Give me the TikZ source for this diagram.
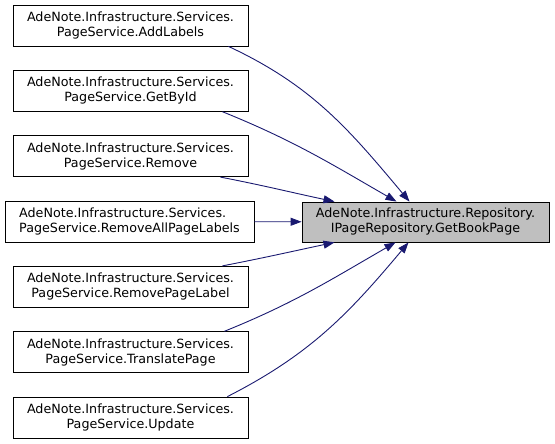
\documentclass[tikz,border=0pt]{standalone}
\usepackage{fontspec}
\setmainfont{DejaVu Sans}
\usetikzlibrary{arrows.meta}
\definecolor{edgeblue}{RGB}{25,25,112}
\definecolor{targetgray}{RGB}{191,191,191}

\begin{document}
\begin{tikzpicture}[x=1pt,y=1pt,
        box/.style={draw=black,line width=0.8pt,align=center,minimum width=235pt,minimum height=41pt,inner sep=2pt,font=\fontsize{12.7}{15}\selectfont},
        call/.style={draw=edgeblue,line width=0.9pt,-{Triangle[length=11pt,width=8pt,fill=edgeblue]}}]
        \useasboundingbox (0,0) rectangle (555,444);
        \node[box] (addlabels) at (130.5,418.5) {AdeNote.Infrastructure.Services.\\PageService.AddLabels};
        \node[box] (getbyid) at (130.5,353.2) {AdeNote.Infrastructure.Services.\\PageService.GetById};
        \node[box] (remove) at (130.5,287.8) {AdeNote.Infrastructure.Services.\\PageService.Remove};
        \node[box,align=left,minimum width=249pt] (removeall) at (129.5,222.5) {AdeNote.Infrastructure.Services.\\PageService.RemoveAllPageLabels};
        \node[box] (removelabel) at (130.5,157.2) {AdeNote.Infrastructure.Services.\\PageService.RemovePageLabel};
        \node[box] (translate) at (130.5,91.8) {AdeNote.Infrastructure.Services.\\PageService.TranslatePage};
        \node[box] (update) at (130.5,26.5) {AdeNote.Infrastructure.Services.\\PageService.Update};
        \node[box,fill=targetgray,minimum width=247pt,minimum height=40pt] (getbookpage) at (425.5,222) {AdeNote.Infrastructure.Repository.\\IPageRepository.GetBookPage};
        \draw[call] ([xshift=-20pt]addlabels.south east) to[out=-25,in=130] ([xshift=-16pt]getbookpage.north);
        \draw[call] ([xshift=-26pt]getbyid.south east) to[out=-22,in=150] ([xshift=-29pt]getbookpage.north);
        \draw[call] ([xshift=-28pt]remove.south east) to[out=-11,in=168] ([xshift=-91pt]getbookpage.north);
        \draw[call] (removeall) -- (getbookpage);
        \draw[call] ([xshift=-26pt]removelabel.north east) to[out=11,in=-168] ([xshift=-91pt]getbookpage.south);
        \draw[call] ([xshift=-24pt]translate.north east) to[out=22,in=-150] ([xshift=-30pt]getbookpage.south);
        \draw[call] ([xshift=-21pt]update.north east) to[out=27,in=-130] ([xshift=-17pt]getbookpage.south);
\end{tikzpicture}
\end{document}
